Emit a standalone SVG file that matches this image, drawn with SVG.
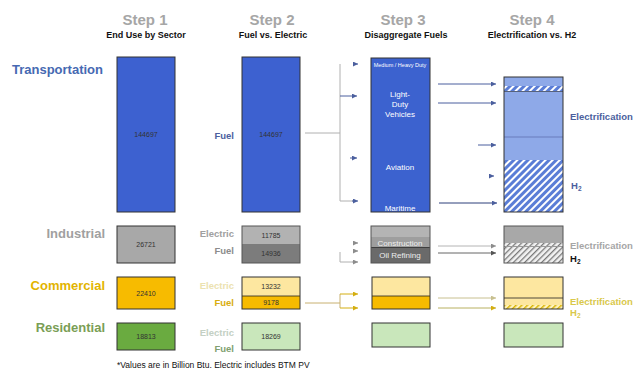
<svg xmlns="http://www.w3.org/2000/svg" width="638" height="371" viewBox="0 0 638 371">
<defs>
<pattern id="hatchBlue" patternUnits="userSpaceOnUse" width="5" height="5" patternTransform="rotate(45)">
<rect width="5" height="5" fill="#ffffff"/>
<rect width="3" height="5" fill="#5a7dd6"/>
</pattern>
<pattern id="hatchGray" patternUnits="userSpaceOnUse" width="4" height="4" patternTransform="rotate(45)">
<rect width="4" height="4" fill="#f2f2f2"/>
<rect width="1.3" height="4" fill="#7a7a7a"/>
</pattern>
<pattern id="hatchGold" patternUnits="userSpaceOnUse" width="4" height="4" patternTransform="rotate(45)">
<rect width="4" height="4" fill="#fff3c0"/>
<rect width="1.5" height="4" fill="#d9b300"/>
</pattern>
<marker id="arB" viewBox="0 0 6 6" refX="6" refY="3" markerWidth="5" markerHeight="5" orient="auto"><path d="M0,0 L6,3 L0,6 z" fill="#4b5f9e"/></marker>
<marker id="arG" viewBox="0 0 6 6" refX="6" refY="3" markerWidth="5" markerHeight="5" orient="auto"><path d="M0,0 L6,3 L0,6 z" fill="#8c8c8c"/></marker>
<marker id="arK" viewBox="0 0 6 6" refX="6" refY="3" markerWidth="5" markerHeight="5" orient="auto"><path d="M0,0 L6,3 L0,6 z" fill="#555555"/></marker>
<marker id="arY" viewBox="0 0 6 6" refX="6" refY="3" markerWidth="5" markerHeight="5" orient="auto"><path d="M0,0 L6,3 L0,6 z" fill="#d4ae10"/></marker>
<marker id="arT" viewBox="0 0 6 6" refX="6" refY="3" markerWidth="5" markerHeight="5" orient="auto"><path d="M0,0 L6,3 L0,6 z" fill="#c8c090"/></marker>
</defs>
<style>
text{font-family:"Liberation Sans",Arial,sans-serif;}
.step{font-size:15px;font-weight:bold;fill:#a6a6a6;text-anchor:middle;}
.sub{font-size:9px;font-weight:bold;fill:#111;text-anchor:middle;}
.sector{font-size:13px;font-weight:bold;text-anchor:end;}
.lab{font-size:9.5px;font-weight:bold;text-anchor:end;}
.num{font-size:7px;fill:#333;text-anchor:middle;}
.wt{font-size:8px;fill:#ffffff;text-anchor:middle;}
.rl{font-size:9.5px;font-weight:bold;}
.bx{stroke:#333;stroke-width:1;}
.ln{fill:none;stroke-width:1;}
</style>

<g id="headers">
<text class="step" x="145" y="25">Step 1</text>
<text class="sub" x="146" y="38">End Use by Sector</text>
<text class="step" x="272" y="25">Step 2</text>
<text class="sub" x="273" y="38">Fuel vs. Electric</text>
<text class="step" x="403" y="25">Step 3</text>
<text class="sub" x="406" y="38">Disaggregate Fuels</text>
<text class="step" x="532" y="25">Step 4</text>
<text class="sub" x="532" y="38">Electrification vs. H2</text>
</g>

<g id="transportation">
<text class="sector" x="103" y="74" fill="#4669b2">Transportation</text>
<rect class="bx" x="117" y="57" width="58" height="155" fill="#3d61d0"/>
<text class="num" x="146" y="137" fill="#223">144697</text>
<text class="lab" x="234" y="139" fill="#4b5f9e">Fuel</text>
<rect class="bx" x="242" y="57" width="58" height="155" fill="#3d61d0"/>
<text class="num" x="271" y="137" fill="#5a70c0">144697</text>
<rect class="bx" x="371" y="58" width="59" height="154" fill="#3c62cf"/>
<text class="wt" x="400" y="67" style="font-size:5.5px">Medium / Heavy Duty</text>
<text class="wt" x="400" y="97">Light-</text>
<text class="wt" x="400" y="107">Duty</text>
<text class="wt" x="400" y="117">Vehicles</text>
<text class="wt" x="400" y="170">Aviation</text>
<text class="wt" x="400" y="211">Maritime</text>
<rect x="504" y="77" width="59" height="135" fill="#8ea9e8"/>
<rect x="504" y="86" width="59" height="5" fill="url(#hatchBlue)"/>
<rect x="504" y="160" width="59" height="52" fill="url(#hatchBlue)"/>
<line x1="504" y1="91.5" x2="563" y2="91.5" stroke="#333" stroke-width="0.6"/>
<line x1="504" y1="137" x2="563" y2="137" stroke="#5060a0" stroke-width="0.6"/>
<rect x="504" y="77" width="59" height="135" fill="none" stroke="#333"/>
<text class="rl" x="570" y="120" fill="#4b5f9e">Electrification</text>
<text class="rl" x="571" y="189" fill="#4b5f9e">H<tspan font-size="6.5" dy="2">2</tspan></text>
</g>

<g id="industrial">
<text class="sector" x="105" y="238" fill="#a0a0a0">Industrial</text>
<rect class="bx" x="117" y="226" width="58" height="37" fill="#a8a8a8"/>
<text class="num" x="146" y="247">26721</text>
<text class="lab" x="234" y="237" fill="#a0a0a0">Electric</text>
<text class="lab" x="234" y="254" fill="#8c8c8c">Fuel</text>
<rect x="242" y="226" width="58" height="18" fill="#b2b2b2"/>
<rect x="242" y="244" width="58" height="19" fill="#7c7c7c"/>
<rect x="242" y="226" width="58" height="37" fill="none" stroke="#555"/>
<text class="num" x="271" y="238">11785</text>
<text class="num" x="271" y="256">14936</text>
<rect x="371" y="226" width="59" height="21" fill="#9e9e9e"/>
<rect x="371" y="226" width="59" height="11" fill="#b4b4b4"/>
<rect x="371" y="247" width="59" height="16" fill="#6a6a6a"/>
<line x1="371" y1="247.5" x2="430" y2="247.5" stroke="#333" stroke-width="0.8"/>
<rect x="371" y="226" width="59" height="37" fill="none" stroke="#555"/>
<text class="wt" x="400" y="246" style="fill:#eeeeee">Construction</text>
<text class="wt" x="400" y="258" style="fill:#eeeeee">Oil Refining</text>
<rect x="504" y="226" width="59" height="17" fill="#a8a8a8"/>
<rect x="504" y="243" width="59" height="3" fill="url(#hatchGray)"/>
<rect x="504" y="247" width="59" height="16" fill="url(#hatchGray)"/>
<line x1="504" y1="246.5" x2="563" y2="246.5" stroke="#555" stroke-width="0.6"/>
<rect x="504" y="226" width="59" height="37" fill="none" stroke="#555"/>
<text class="rl" x="570" y="249" fill="#a6a6a6">Electrification</text>
<text class="rl" x="570" y="262" fill="#111">H<tspan font-size="6.5" dy="2">2</tspan></text>
</g>

<g id="commercial">
<text class="sector" x="105" y="290" fill="#e2b400">Commercial</text>
<rect class="bx" x="117" y="277" width="58" height="32" fill="#f7bb00"/>
<text class="num" x="146" y="296">22410</text>
<text class="lab" x="234" y="289" fill="#ece2b0">Electric</text>
<text class="lab" x="234" y="306" fill="#d8ad10">Fuel</text>
<rect x="242" y="277" width="58" height="19" fill="#fde7a0"/>
<rect x="242" y="296" width="58" height="13" fill="#f7bb00"/>
<line x1="242" y1="296" x2="300" y2="296" stroke="#222" stroke-width="0.8"/>
<rect x="242" y="277" width="58" height="32" fill="none" stroke="#333"/>
<text class="num" x="271" y="289">13232</text>
<text class="num" x="271" y="305">9178</text>
<rect x="372" y="277" width="58" height="19" fill="#fde7a0"/>
<rect x="372" y="296" width="58" height="13" fill="#f7bb00"/>
<line x1="372" y1="296" x2="430" y2="296" stroke="#222" stroke-width="0.8"/>
<rect x="372" y="277" width="58" height="32" fill="none" stroke="#333"/>
<rect x="504" y="277" width="59" height="32" fill="#fde7a0"/>
<rect x="504" y="305" width="59" height="4" fill="url(#hatchGold)"/>
<line x1="504" y1="298" x2="563" y2="298" stroke="#222" stroke-width="0.8"/>
<rect x="504" y="277" width="59" height="32" fill="none" stroke="#333"/>
<text class="rl" x="570" y="305" fill="#d9c84a">Electrification</text>
<text class="rl" x="570" y="316" fill="#d9c84a">H<tspan font-size="6.5" dy="2">2</tspan></text>
</g>

<g id="residential">
<text class="sector" x="105" y="332" fill="#7a9e55">Residential</text>
<rect class="bx" x="117" y="323" width="58" height="27" fill="#6aab40"/>
<text class="num" x="146" y="339">18813</text>
<text class="lab" x="234" y="336" fill="#c4d0c4">Electric</text>
<text class="lab" x="234" y="352" fill="#80a070">Fuel</text>
<rect class="bx" x="242" y="323" width="58" height="27" fill="#c9e7bb"/>
<text class="num" x="271" y="339">18269</text>
<rect class="bx" x="372" y="323" width="58" height="24" fill="#c9e7bb"/>
<rect class="bx" x="504" y="323" width="59" height="24" fill="#c9e7bb"/>
</g>

<g id="connectors">
<path class="ln" d="M305,133 H340 M340,64 V201 H356" stroke="#b0b0b0"/>
<line class="ln" x1="340" y1="96" x2="357" y2="96" stroke="#4b5f9e" marker-end="url(#arB)"/>
<line class="ln" x1="353" y1="64" x2="358" y2="64" stroke="#4b5f9e" marker-end="url(#arB)"/>
<line class="ln" x1="350" y1="158" x2="357" y2="158" stroke="#4b5f9e" marker-end="url(#arB)"/>
<line class="ln" x1="352" y1="201" x2="358" y2="201" stroke="#4b5f9e" marker-end="url(#arB)"/>
<line class="ln" x1="438" y1="84" x2="496" y2="84" stroke="#4b5f9e" marker-end="url(#arB)"/>
<line class="ln" x1="438" y1="103" x2="496" y2="103" stroke="#4b5f9e" marker-end="url(#arB)"/>
<line class="ln" x1="478" y1="145" x2="496" y2="145" stroke="#4b5f9e" marker-end="url(#arB)"/>
<line class="ln" x1="490" y1="176" x2="494" y2="176" stroke="#4b5f9e" marker-end="url(#arB)"/>
<line class="ln" x1="439" y1="203" x2="497" y2="203" stroke="#2d3f7a" marker-end="url(#arB)"/>
<path class="ln" d="M340,252 V262 H352" stroke="#b0b0b0"/>
<line class="ln" x1="352" y1="262" x2="358" y2="262" stroke="#8c8c8c" marker-end="url(#arG)"/>
<line class="ln" x1="354" y1="243" x2="358" y2="243" stroke="#8c8c8c" marker-end="url(#arG)"/>
<line class="ln" x1="354" y1="251" x2="358" y2="251" stroke="#8c8c8c" marker-end="url(#arG)"/>
<line class="ln" x1="438" y1="246" x2="496" y2="246" stroke="#b4b4b4" marker-end="url(#arG)"/>
<line class="ln" x1="438" y1="253" x2="496" y2="253" stroke="#666" marker-end="url(#arK)"/>
<path class="ln" d="M305,303 H340 M340,294 V308" stroke="#c8b070"/>
<line class="ln" x1="340" y1="294" x2="358" y2="294" stroke="#d4ae10" marker-end="url(#arY)"/>
<line class="ln" x1="340" y1="308" x2="358" y2="308" stroke="#d4ae10" marker-end="url(#arY)"/>
<line class="ln" x1="438" y1="298" x2="496" y2="298" stroke="#c8c090" marker-end="url(#arT)"/>
<line class="ln" x1="438" y1="308" x2="496" y2="308" stroke="#b8b060" marker-end="url(#arY)"/>
</g>

<text x="117" y="368" style="font-size:8.5px;fill:#111">*Values are in Billion Btu. Electric includes BTM PV</text>
</svg>
